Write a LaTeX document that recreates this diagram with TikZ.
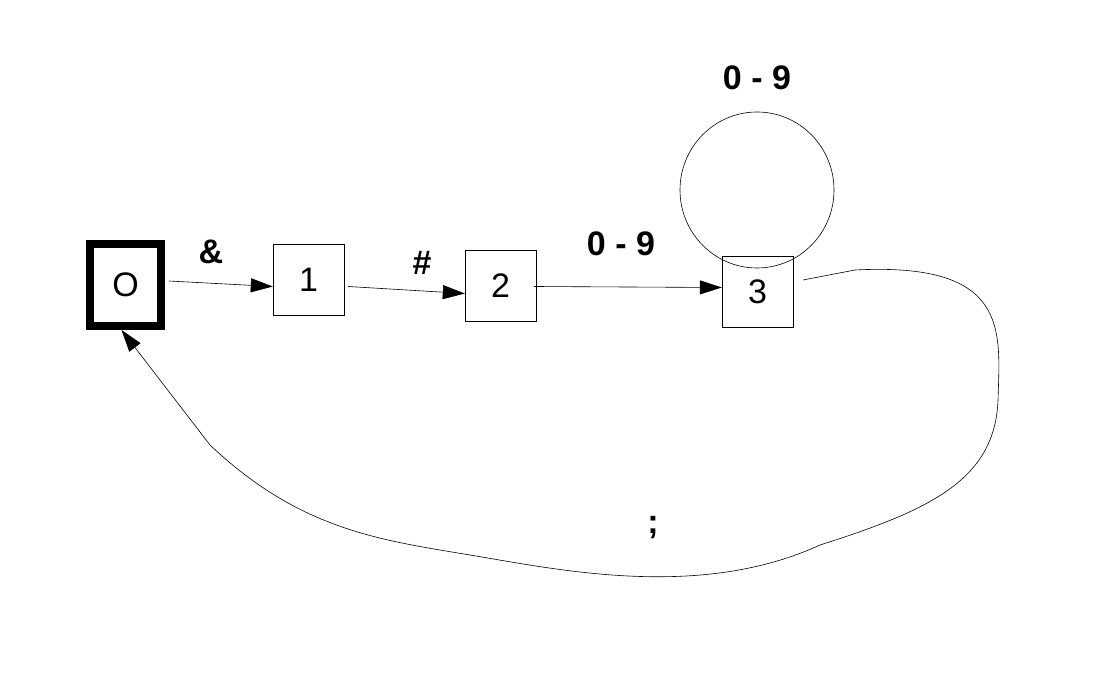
\documentclass[tikz,border=0pt]{standalone}
\usepackage{fontspec}
\setmainfont{Liberation Sans}
\usetikzlibrary{arrows.meta}
\begin{document}
\begin{tikzpicture}[x=1pt,y=-1pt,
  st/.style={draw,minimum width=71pt,minimum height=71pt,inner sep=0pt,font=\fontsize{34}{36}\selectfont},
  lbl/.style={font=\bfseries\fontsize{34}{36}\selectfont},
  arr/.style={-{Triangle[length=22pt,width=14pt]},line width=0.6pt}]
\useasboundingbox (0,0) rectangle (1105,684);
\node[st,line width=8pt,minimum width=71pt,minimum height=82pt] (s0) at (125.5,285) {O};
\node[st] (s1) at (308.5,279.5) {1};
\node[st] (s2) at (500.5,285.5) {2};
\node[st] (s3) at (757.5,291.5) {3};
\draw[line width=0.6pt] (757,190) ellipse [x radius=77, y radius=78];
\node[lbl] (l1) at (211,252) {\&};
\node[lbl] (l2) at (422,263) {\#};
\node[lbl] (l3) at (621,244) {0 - 9};
\node[lbl] (l4) at (757,78) {0 - 9};
\node[lbl] (l5) at (653,528) {;};
\draw[arr] ([shift={(4,-4)}]s0.east) -- ([shift={(0,7)}]s1.west);
\draw[arr] ([shift={(4,7)}]s1.east) -- ([shift={(0,8)}]s2.west);
\draw[arr] ([shift={(-2,1)}]s2.east) -- ([shift={(0,-4)}]s3.west);
\coordinate (c1) at (803,280);
\coordinate (c2) at (210,445);
\draw[line width=0.6pt] (c1) -- (855,270) .. controls (1010,262) and (1000,330) .. (998,400)
  .. controls (995,480) and (930,510) .. (820,545)
  .. controls (700,600) and (560,570) .. (470,555)
  .. controls (380,540) and (300,530) .. (210,445);
\draw[arr] (c2) -- ([xshift=-4pt]s0.south);
\end{tikzpicture}
\end{document}
